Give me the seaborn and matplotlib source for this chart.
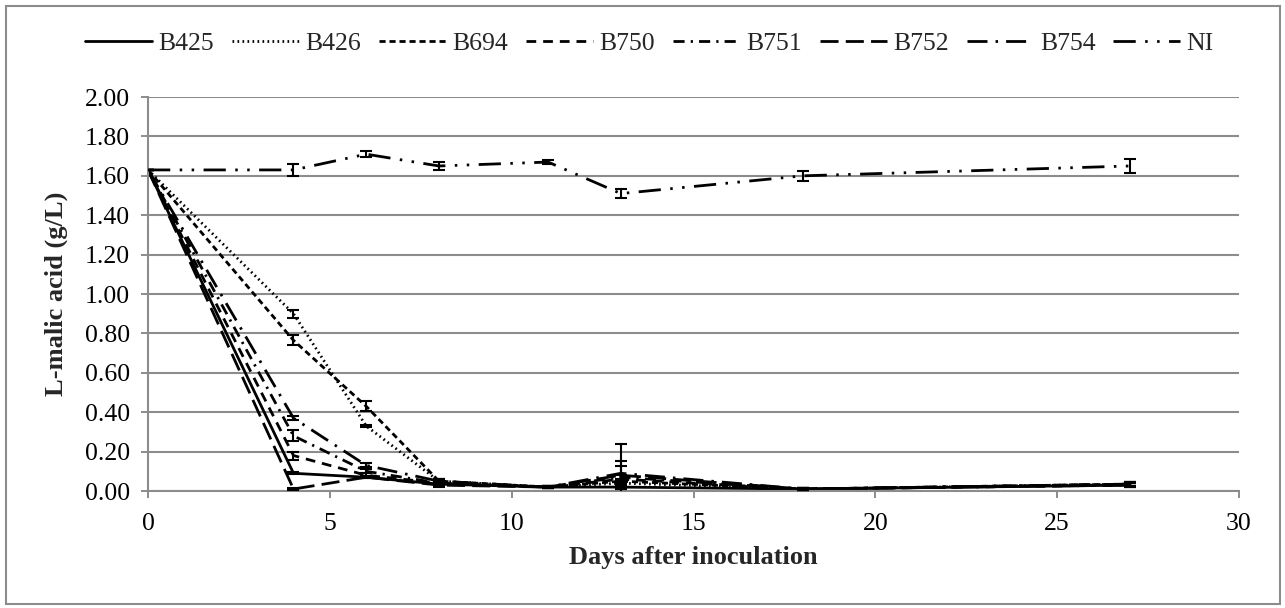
import matplotlib
matplotlib.use("Agg")
import matplotlib.pyplot as plt
import seaborn as sns
import pandas as pd
import numpy as np
from matplotlib.patches import Rectangle

# ---- data ----
days = [0, 4, 6, 8, 11, 13, 18, 27]
strains = ["B425", "B426", "B694", "B750", "B751", "B752", "B754", "NI"]
B425 = [1.63, 0.09, 0.07, 0.035, 0.02, 0.02, 0.01, 0.03]
B426 = [1.63, 0.90, 0.33, 0.05, 0.02, 0.04, 0.01, 0.035]
B694 = [1.63, 0.765, 0.43, 0.05, 0.02, 0.05, 0.01, 0.035]
B750 = [1.63, 0.18, 0.08, 0.04, 0.02, 0.06, 0.01, 0.03]
B751 = [1.63, 0.28, 0.10, 0.04, 0.02, 0.07, 0.01, 0.035]
B752 = [1.63, 0.01, 0.07, 0.03, 0.02, 0.08, 0.01, 0.03]
B754 = [1.63, 0.37, 0.13, 0.05, 0.02, 0.09, 0.01, 0.035]
NI   = [1.63, 1.63, 1.71, 1.65, 1.67, 1.51, 1.60, 1.65]

B425_err = [0, 0.005, 0.005, 0.01, 0.005, 0.01, 0.005, 0.01]
B426_err = [0, 0.02, 0.006, 0.01, 0.005, 0.01, 0.005, 0.01]
B694_err = [0, 0.025, 0.025, 0.01, 0.005, 0.01, 0.005, 0.01]
B750_err = [0, 0.02, 0.01, 0.01, 0.005, 0.02, 0.005, 0.01]
B751_err = [0, 0.028, 0.01, 0.01, 0.005, 0.055, 0.005, 0.01]
B752_err = [0, 0.005, 0.005, 0.01, 0.005, 0.07, 0.005, 0.01]
B754_err = [0, 0.01, 0.01, 0.01, 0.005, 0.15, 0.005, 0.01]
NI_err   = [0, 0.03, 0.015, 0.02, 0.012, 0.025, 0.025, 0.035]

values = [B425, B426, B694, B750, B751, B752, B754, NI]
errors = [B425_err, B426_err, B694_err, B750_err, B751_err, B752_err, B754_err, NI_err]

rows = []
for s, v in zip(strains, values):
    for d, y in zip(days, v):
        rows.append({"Day": d, "Value": y, "Strain": s})
df = pd.DataFrame(rows)

dashes = {
    "B425": "",
    "B426": (0.6, 1.2),
    "B694": (2.2, 1.4),
    "B750": (3.5, 2.5),
    "B751": (4.0, 2.2, 0.8, 2.2),
    "B752": (6.5, 2.6),
    "B754": (7.2, 2.9, 0.9, 2.9),
    "NI": (8.0, 3.4, 0.9, 3.4, 0.9, 3.4),
}

sns.set_theme(style="white")
plt.rcParams["font.family"] = ["Liberation Serif", "DejaVu Serif"]

fig = plt.figure(figsize=(12.85, 6.08), dpi=100)
ax = fig.add_axes([0.1152, 0.1924, 0.849, 0.648])

sns.lineplot(data=df, x="Day", y="Value", style="Strain", dashes=dashes,
             style_order=strains, color="black", linewidth=2.0, ax=ax,
             legend=True, errorbar=None)

for v, e in zip(values, errors):
    ax.errorbar(days, v, yerr=e, fmt="none", ecolor="black", elinewidth=1.5,
                capsize=4.5, capthick=1.5, zorder=3)

ax.set_xlim(0, 30)
ax.set_ylim(0, 2.0)
ax.set_xticks(range(0, 31, 5))
yt = np.arange(0, 2.01, 0.2)
ax.set_yticks(yt)
ax.set_yticklabels([f"{t:.2f}" for t in yt])
ax.yaxis.grid(True, color="#8c8c8c", linewidth=1.5)
ax.set_axisbelow(True)
for sp in ["top", "right"]:
    ax.spines[sp].set_visible(False)
for sp in ["left", "bottom"]:
    ax.spines[sp].set_color("#8c8c8c")
    ax.spines[sp].set_linewidth(1.5)
ax.tick_params(axis="both", labelsize=18.5, labelcolor="black", color="#8c8c8c",
               length=5, width=1.4, direction="out", bottom=True, left=True)
ax.tick_params(axis="x", pad=11)
ax.tick_params(axis="y", pad=8)
ax.set_xlabel("Days after inoculation", fontsize=19, fontweight="bold", labelpad=8)
ax.set_ylabel("L-malic acid (g/L)", fontsize=19, fontweight="bold", labelpad=12)

handles, labels = ax.get_legend_handles_labels()
ax.get_legend().remove()
for h in handles:
    h.set_linewidth(2.0)
fig.legend(handles, labels, loc="center", bbox_to_anchor=(0.5055, 0.928), ncol=8,
           frameon=False, fontsize=18.5, handlelength=2.6, columnspacing=0.70,
           handletextpad=0.25)

fig.patches.append(Rectangle((0.0047, 0.0066), 0.9914, 0.9836, transform=fig.transFigure,
                             fill=False, edgecolor="#8c8c8c", linewidth=1.5))

fig.savefig("out.png", dpi=100, facecolor="white")
